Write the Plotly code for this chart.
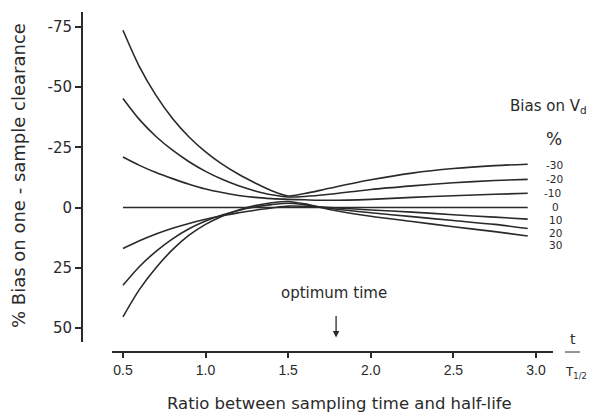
import plotly.graph_objects as go

# ---- data ----
x_ratio = [0.5, 0.6, 0.7, 0.8, 0.9, 1.0, 1.1, 1.2, 1.3, 1.4, 1.5,
           1.6, 1.75, 2.0, 2.25, 2.5, 2.75, 2.95]
vd_bias_labels = ["-30", "-20", "-10", "0", "10", "20", "30"]
bias_m30 = [-73.6, -58.4, -46.6, -37.0, -29.3, -23.1, -18.0, -13.8, -10.2, -7.0, -4.8,
            -5.8, -8.0, -11.5, -14.3, -16.2, -17.4, -18.0]
bias_m20 = [-45.3, -36.5, -29.5, -23.8, -19.0, -15.0, -11.7, -9.0, -6.9, -5.3, -4.4,
            -4.6, -5.5, -7.5, -9.0, -10.3, -11.2, -11.7]
bias_m10 = [-21.0, -17.5, -14.5, -12.0, -9.7, -7.7, -6.2, -5.0, -4.2, -3.7, -3.4,
            -3.2, -3.0, -3.4, -4.2, -4.9, -5.5, -5.9]
bias_0 = [0.0] * 18
bias_p10 = [17.0, 13.8, 11.0, 8.6, 6.6, 4.9, 3.4, 2.2, 1.1, 0.2, -0.6,
            -0.5, 0.0, 1.0, 1.9, 3.0, 4.0, 4.8]
bias_p20 = [32.3, 24.5, 18.2, 13.0, 8.8, 5.6, 3.1, 1.2, -0.2, -1.2, -1.8,
            -1.2, 0.3, 2.2, 3.8, 5.4, 7.0, 8.7]
bias_p30 = [45.4, 34.0, 25.0, 17.5, 11.5, 7.0, 3.6, 1.0, -0.8, -2.0, -2.5,
            -1.5, 0.8, 3.6, 5.8, 8.0, 10.0, 11.8]
series = [bias_m30, bias_m20, bias_m10, bias_0, bias_p10, bias_p20, bias_p30]

x_ticks = [0.5, 1.0, 1.5, 2.0, 2.5, 3.0]
x_ticktext = ["0.5", "1.0", "1.5", "2.0", "2.5", "3.0"]
y_ticks = [-75, -50, -25, 0, 25, 50]
y_ticktext = ["-75", "-50", "-25", "0", "25", "50"]
optimum_time = 1.79

# ---- layout geometry (reference pixels; page body adds an 8px margin) ----
OFF = 8
W, H = 597 - OFF, 412 - OFF
L, R, T, B = 82, 553, 12, 352
X_RANGE = [0.252, 3.103]
Y_RANGE = [60.0, -81.2]

def px(xp):
    return (xp - L) / (R - L)

def py(yp):
    return (B - yp) / (B - T)

INK = "#2a2a2a"
FONT = "DejaVu Sans, Liberation Sans, sans-serif"

fig = go.Figure()
for vals in series:
    fig.add_trace(go.Scatter(x=x_ratio, y=vals, mode="lines",
                             line=dict(color=INK, width=1.6, shape="spline", smoothing=0.8),
                             showlegend=False, hoverinfo="skip"))

# axis lines as shapes (they don't meet in the reference)
fig.add_shape(type="line", xref="paper", yref="paper", x0=0, x1=0, y0=py(342), y1=1,
              line=dict(color=INK, width=2))
fig.add_shape(type="line", xref="paper", yref="paper", x0=px(112), x1=1, y0=0, y1=0,
              line=dict(color=INK, width=2))
# fraction bar of t / T1/2
fig.add_shape(type="line", xref="paper", yref="paper", x0=px(565), x1=px(580), y0=0, y1=0,
              line=dict(color=INK, width=1))

ann = []
ann.append(dict(text="% Bias on one - sample clearance", x=px(19), y=py(176), textangle=-90,
                font=dict(size=18, color=INK)))
ann.append(dict(text="Ratio between sampling time and half-life", x=px(339), y=py(404),
                font=dict(size=16.5, color=INK)))
ann.append(dict(text="t", x=px(573), y=py(339), font=dict(size=14, color=INK)))
ann.append(dict(text="T<sub>1/2</sub>", x=px(576), y=py(373), font=dict(size=12, color=INK)))
ann.append(dict(text="Bias on V<sub>d</sub>", x=px(548), y=py(106), font=dict(size=15, color=INK)))
ann.append(dict(text="%", x=px(554), y=py(139), font=dict(size=17, color=INK)))
label_y = [165, 179, 193, 207, 220, 232.5, 245]
label_x = [554, 554, 552, 555, 555, 555, 555]
for lab, ly, lx in zip(vd_bias_labels, label_y, label_x):
    ann.append(dict(text=lab, x=px(lx), y=py(ly), font=dict(size=10.5, color=INK)))
ann.append(dict(text="optimum time", x=px(334), y=py(293), font=dict(size=15, color=INK)))
for a in ann:
    a.update(xref="paper", yref="paper", showarrow=False, xanchor="center", yanchor="middle")
    fig.add_annotation(**a)

fig.add_annotation(x=optimum_time, y=54.0, xref="x", yref="y", text=" ", showarrow=True,
                   ax=0, ay=-30, arrowhead=2, arrowsize=1, arrowwidth=1.3, arrowcolor=INK)

fig.update_layout(
    width=W, height=H,
    margin=dict(l=L - OFF, r=597 - R, t=T - OFF, b=412 - B),
    paper_bgcolor="white", plot_bgcolor="white",
    font=dict(family=FONT, color=INK),
    xaxis=dict(range=X_RANGE, tickvals=x_ticks, ticktext=x_ticktext, showgrid=False,
               zeroline=False, showline=False, ticks="outside", ticklen=5, tickwidth=1.5,
               tickcolor=INK, tickfont=dict(size=14, color=INK,
                                            family="Liberation Sans, Arial, sans-serif")),
    yaxis=dict(range=Y_RANGE, tickvals=y_ticks, ticktext=y_ticktext, showgrid=False,
               zeroline=False, showline=False, ticks="outside", ticklen=6, tickwidth=1.5,
               tickcolor=INK, tickfont=dict(size=15, color=INK)),
)

fig.write_html("out.html")
